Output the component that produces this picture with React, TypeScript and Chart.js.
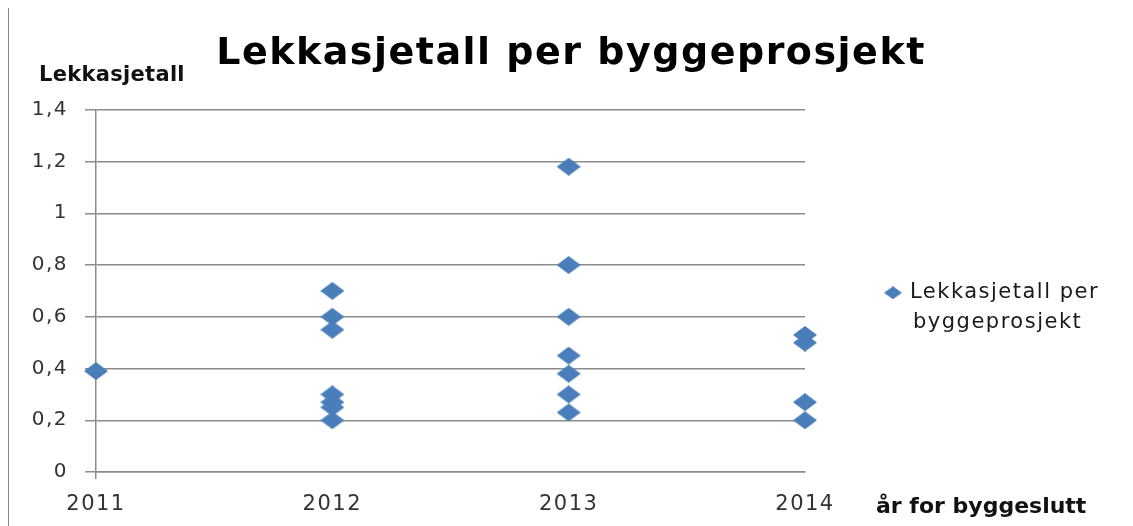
import React, { useEffect, useRef } from "react";
import { Chart, registerables } from "chart.js";

Chart.register(...registerables);

const chartTitle = "Lekkasjetall per byggeprosjekt";
const yAxisTitle = "Lekkasjetall";
const xAxisTitle = "år for byggeslutt";
const legendLines = ["Lekkasjetall per", "byggeprosjekt"];
const seriesLabel = legendLines.join(" ");

const years = [2011, 2012, 2013, 2014];
const values2011 = [0.39];
const values2012 = [0.7, 0.6, 0.55, 0.3, 0.27, 0.25, 0.2];
const values2013 = [1.18, 0.8, 0.6, 0.45, 0.38, 0.3, 0.23];
const values2014 = [0.53, 0.5, 0.27, 0.2];
const valuesByYear = [values2011, values2012, values2013, values2014];

const yMin = 0;
const yMax = 1.4;
const yStep = 0.2;

const FONT = "'DejaVu Sans', sans-serif";
const BLUE = "#4A7EBB";
const GRID = "#8c8c8c";
const TEXT = "#111111";

function makeDiamond(w: number, h: number): HTMLCanvasElement {
  const c = document.createElement("canvas");
  c.width = w;
  c.height = h;
  const g = c.getContext("2d")!;
  g.fillStyle = BLUE;
  g.beginPath();
  g.moveTo(0, h / 2);
  g.lineTo(w / 2, 0);
  g.lineTo(w, h / 2);
  g.lineTo(w / 2, h);
  g.closePath();
  g.fill();
  return c;
}

function setSpacing(ctx: any, v: string) {
  try {
    ctx.letterSpacing = v;
  } catch (e) {}
}

export default function App() {
  const ref = useRef<HTMLCanvasElement | null>(null);

  useEffect(() => {
    if (!ref.current) return;
    const pointImg = makeDiamond(24, 18);
    const legendImg = makeDiamond(18, 13);

    const points = years.flatMap((yr, i) =>
      valuesByYear[i].map((v) => ({ x: yr, y: v }))
    );

    const extras = {
      id: "extras",
      beforeDraw(chart: any) {
        setSpacing(chart.ctx, "1.5px");
      },
      afterDraw(chart: any) {
        const { ctx, chartArea } = chart;
        const xs = chart.scales.x;
        ctx.save();
        ctx.textBaseline = "middle";
        ctx.textAlign = "left";
        ctx.fillStyle = TEXT;
        // y axis title, horizontal above the axis
        setSpacing(ctx, "0.3px");
        ctx.font = `bold 21px ${FONT}`;
        ctx.fillText(yAxisTitle, 30, chartArea.top - 34);
        // x axis title to the right of the axis, at tick-label height
        setSpacing(ctx, "0px");
        ctx.font = `bold 22px ${FONT}`;
        ctx.fillText(xAxisTitle, chartArea.right + 71, xs.top + 35);
        // legend
        const lx = chartArea.right + 88;
        const ly = chartArea.top + 183;
        ctx.drawImage(legendImg, lx - legendImg.width / 2, ly - legendImg.height / 2);
        ctx.font = `21px ${FONT}`;
        ctx.fillStyle = "#1a1a1a";
        setSpacing(ctx, "1.5px");
        legendLines.forEach((line, i) => {
          ctx.fillText(line, lx + 17 + (i ? 3 : 0), ly + i * 30);
        });
        ctx.restore();
        setSpacing(ctx, "0px");
      },
    };

    const chart = new Chart(ref.current, {
      type: "scatter",
      data: {
        datasets: [
          {
            label: seriesLabel,
            data: points,
            pointStyle: pointImg as any,
            backgroundColor: BLUE,
            borderColor: BLUE,
            clip: false as any,
          },
        ],
      },
      options: {
        animation: false,
        responsive: false,
        maintainAspectRatio: false,
        events: [],
        layout: { padding: { left: 0, right: 0, top: 0, bottom: 0 } },
        plugins: {
          legend: { display: false },
          tooltip: { enabled: false },
          title: {
            display: true,
            text: chartTitle,
            color: "#000",
            font: { family: FONT, size: 38, weight: "bold", lineHeight: 0.6 },
            padding: { top: 35, bottom: 44 },
          },
        },
        scales: {
          x: {
            type: "linear",
            min: years[0],
            max: years[years.length - 1],
            afterBuildTicks: (s: any) => {
              s.ticks = years.map((v) => ({ value: v }));
            },
            afterFit: (s: any) => {
              s.height = 54;
            },
            ticks: {
              color: "#333",
              font: { family: FONT, size: 21 },
              padding: 13,
              maxRotation: 0,
              autoSkip: false,
              callback: (v: any) => String(v),
            },
            grid: {
              display: true,
              drawOnChartArea: false,
              drawTicks: true,
              tickLength: 7,
              lineWidth: 1.5,
              color: (c: any) => (c.index === 0 ? GRID : "rgba(0,0,0,0)"),
            },
            border: { display: true, color: GRID, width: 1.5 },
          },
          y: {
            type: "linear",
            position: "left",
            min: yMin,
            max: yMax,
            afterFit: (s: any) => {
              s.width = 87;
            },
            ticks: {
              stepSize: yStep,
              color: "#333",
              font: { family: FONT, size: 20 },
              padding: 17,
              callback: (v: any) => String(Number(Number(v).toFixed(1))).replace(".", ","),
            },
            grid: {
              color: GRID,
              lineWidth: 1.5,
              drawTicks: true,
              tickLength: 11,
            },
            border: { display: true, color: GRID, width: 1.5 },
          },
          legendSpace: {
            type: "linear",
            position: "right",
            display: true,
            afterFit: (s: any) => {
              s.width = 328;
            },
            ticks: { display: false },
            grid: { display: false, drawTicks: false },
            border: { display: false },
          },
        },
      } as any,
      plugins: [extras],
    });
    return () => chart.destroy();
  }, []);

  return (
    <div
      style={{
        width: 1125,
        height: 519,
        marginTop: -1,
        borderLeft: `1px solid #888`,
        borderTop: `1px solid #888`,
        boxSizing: "border-box",
        overflow: "hidden",
        background: "#fff",
      }}
    >
      <canvas ref={ref} width={1124} height={518} style={{ display: "block", width: 1124, height: 518 }} />
    </div>
  );
}
